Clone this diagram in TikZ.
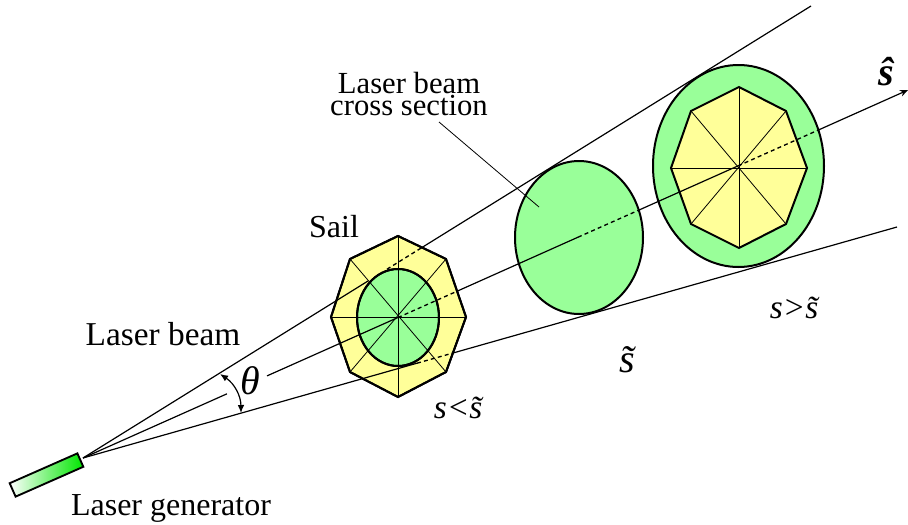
\documentclass[tikz,border=0pt]{standalone}
\usepackage{fontspec}
\setmainfont{Liberation Serif}
\usetikzlibrary{arrows.meta,shapes.geometric}
\definecolor{beamgreen}{HTML}{99FF99}
\definecolor{sailyellow}{HTML}{FFFF99}
\definecolor{genergreen}{HTML}{00E600}

\begin{document}
\begin{tikzpicture}[
  x=0.75pt, y=-0.75pt,
  sailface/.style={draw, fill=sailyellow, line width=1.5pt, line join=miter},
  spoke/.style={line width=0.6pt},
  beamcs/.style={draw, ellipse, fill=beamgreen, line width=1.5pt, inner sep=0pt},
  ray/.style={line width=0.9pt},
  hidden/.style={line width=1pt, dash pattern=on 3pt off 2.4pt},
  lbl/.style={inner sep=0pt, font=\fontsize{24}{26}\selectfont},
  symb/.style={inner sep=0pt, font=\fontsize{25}{27}\selectfont\itshape}
]
\useasboundingbox (0,0) rectangle (908,525);

% small sail in front of the beam
\coordinate (sa1) at (398,236);
\coordinate (sa2) at (446,259);
\coordinate (sa3) at (466,317);
\coordinate (sa4) at (446,372);
\coordinate (sa5) at (398,397);
\coordinate (sa6) at (350,372);
\coordinate (sa7) at (331,317);
\coordinate (sa8) at (350,259);
\filldraw[sailface] (sa1) -- (sa2) -- (sa3) -- (sa4) -- (sa5) -- (sa6) -- (sa7) -- (sa8) -- cycle;
\node[beamcs, minimum width=61.5pt, minimum height=72.75pt] (spot) at (398,317.5) {};
\foreach \a/\b in {sa1/sa5, sa2/sa6, sa3/sa7, sa4/sa8} \draw[spoke] (\a) -- (\b);
\draw[sailface, fill=none] (sa1) -- (sa2) -- (sa3) -- (sa4) -- (sa5) -- (sa6) -- (sa7) -- (sa8) -- cycle;
\node[beamcs, fill=none, minimum width=61.5pt, minimum height=72.75pt] at (398,317.5) {};

% beam at s tilde
\node[beamcs, minimum width=96pt, minimum height=114.75pt] (crossmid) at (579,237.5) {};

% large beam section, sail inside
\node[beamcs, minimum width=128.25pt, minimum height=151.5pt] (crossbig) at (738.5,166) {};
\coordinate (sb1) at (739,87);
\coordinate (sb2) at (786,111);
\coordinate (sb3) at (807,168);
\coordinate (sb4) at (786,224);
\coordinate (sb5) at (739,248);
\coordinate (sb6) at (691,224);
\coordinate (sb7) at (671,168);
\coordinate (sb8) at (691,111);
\filldraw[sailface] (sb1) -- (sb2) -- (sb3) -- (sb4) -- (sb5) -- (sb6) -- (sb7) -- (sb8) -- cycle;
\foreach \a/\b in {sb1/sb5, sb2/sb6, sb3/sb7, sb4/sb8} \draw[spoke] (\a) -- (\b);

% generator
\node[draw, line width=1.4pt, rotate=23.8, minimum width=55.5pt, minimum height=11pt, inner sep=0pt,
  left color=white, right color=genergreen] (gener) at (46.5,475) {};
\coordinate (src) at (83,458);

% upper ray
\coordinate (up1) at (368,281);
\coordinate (up2) at (387,269.2);
\coordinate (up3) at (421,248.1);
\coordinate (upend) at (811,6);
\draw[ray] (src) -- (up1);
\draw[hidden] (up2) -- (up3);
\draw[ray] (up3) -- (upend);

% axis
\coordinate (ax1) at (227,393.8);
\coordinate (ax2) at (267,375.9);
\coordinate (ax3) at (398,317.5);
\coordinate (ax4) at (458,290.8);
\coordinate (ax5) at (578,237.2);
\coordinate (ax6) at (640,209.6);
\coordinate (ax7) at (738,165.9);
\coordinate (ax8) at (820,129.3);
\coordinate (axend) at (908,90);
\draw[ray] (src) -- (ax1);
\draw[ray] (ax2) -- (ax3);
\draw[hidden] (ax3) -- (ax4);
\draw[ray] (ax4) -- (ax5);
\draw[hidden] (ax5) -- (ax6);
\draw[ray] (ax6) -- (ax7);
\draw[hidden] (ax7) -- (ax8);
\draw[ray, -{Stealth[length=6pt, width=5pt]}] (ax8) -- (axend);

% lower ray
\coordinate (lo1) at (417,363.2);
\coordinate (lo2) at (452,353.3);
\coordinate (loend) at (897,227);
\draw[ray] (src) -- (lo1);
\draw[hidden] (lo1) -- (lo2);
\draw[ray] (lo2) -- (loend);

% angle
\coordinate (th1) at (220,374);
\coordinate (th2) at (241,413);
\draw[line width=0.9pt, {Latex[length=6pt, width=5pt]}-{Latex[length=6pt, width=5pt]}] (th1) to[bend left=28] (th2);

% labels
\node[lbl] (sail) at (334,227) {Sail};
\node[lbl, font=\fontsize{25}{27}\selectfont] (lbeam) at (163,334) {Laser beam};
\node[lbl] (lgen) at (171,508) {Laser generator};
\node[inner sep=0pt, align=center, font=\fontsize{23}{16.5}\selectfont] (lcross) at (409,94) {Laser beam\\cross section};
\coordinate (leadend) at (539,207);
\coordinate (leadstart) at (439,122);
\draw[line width=0.6pt] (leadstart) -- (leadend);
\node[symb, font=\fontsize{30}{32}\selectfont\itshape] (ltheta) at (250,381) {θ};
\node[symb] (lless) at (458,408) {s<s̃};
\node[symb, font=\fontsize{30}{32}\selectfont\itshape] (ltilde) at (627,360) {s̃};
\node[symb] (lmore) at (794,308) {s>s̃};
\node[symb, font=\fontsize{30}{32}\selectfont\itshape\bfseries] (lhat) at (886,72) {ŝ};
\end{tikzpicture}
\end{document}
